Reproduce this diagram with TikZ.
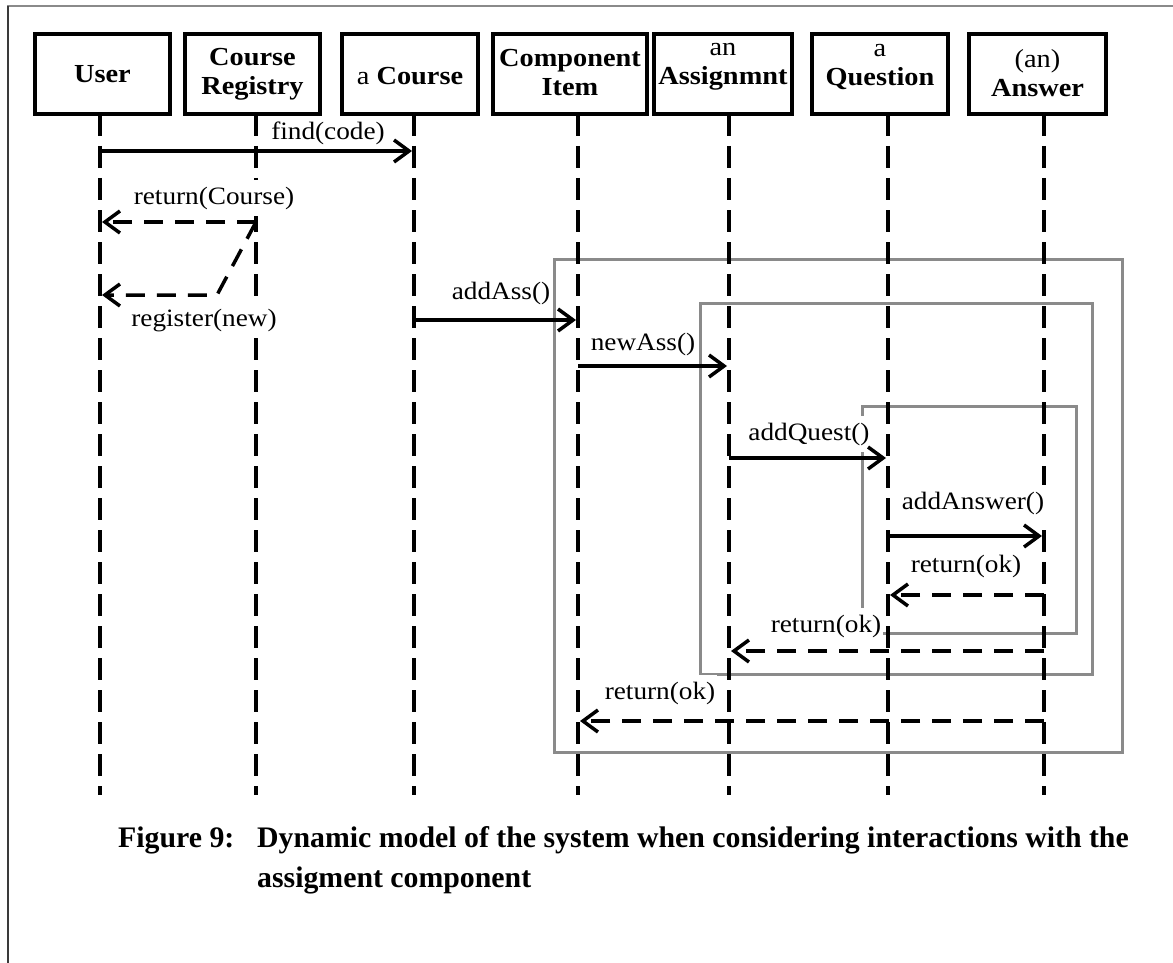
\documentclass[tikz,border=0pt]{standalone}
\usepackage{fontspec}
\setmainfont{Liberation Serif}[FakeStretch=1.09]
\newfontfamily\captionfamily{Liberation Serif}
\usetikzlibrary{arrows.meta}
\definecolor{framegray}{HTML}{8A8A8A}
\definecolor{edgegray}{HTML}{3A3A3A}

\begin{document}
\begin{tikzpicture}[x=1pt,y=-1pt,
  obj/.style={draw, line width=4pt, minimum height=80pt, inner sep=0pt, fill=white},
  objtext/.style={align=center, inner sep=0pt, font=\fontsize{26}{29}\selectfont},
  life/.style={line width=4pt, dash pattern=on 22pt off 10pt},
  call/.style={line width=3.5pt, -{Straight Barb[length=15pt,width=22pt]}},
  ret/.style={call, dash pattern=on 19pt off 12pt},
  frame/.style={draw=framegray, line width=3pt},
  msg/.style={fill=white, inner xsep=2pt, inner ysep=7pt, text height=17.5pt,
    text depth=5pt, font=\fontsize{25}{30}\selectfont},
  captext/.style={anchor=base west, inner sep=0pt,
    font=\captionfamily\fontsize{29.8}{40}\selectfont\bfseries}
]
\useasboundingbox (0,0) rectangle (1173,963);

% page rules
\draw[framegray, line width=2pt] (7,6) -- (1173,6);
\draw[edgegray, line width=1.5pt] (8,6) -- (8,963);

% combined fragments
\draw[frame] (554,259.5) rectangle (1122,752.7);
\draw[frame] (700.7,303.3) rectangle (1092,674);
\draw[frame] (862.7,406.7) rectangle (1076,633.3);

% lifeline tops
\coordinate (lU) at (100,114);
\coordinate (lR) at (256,114);
\coordinate (lC) at (414,114);
\coordinate (lI) at (578,114);
\coordinate (lA) at (729,114);
\coordinate (lQ) at (888,114);
\coordinate (lN) at (1044,114);
\foreach \l in {lU,lR,lC,lI,lA,lQ,lN}
  \draw[life] (\l) -- ++(0,681);

% message labels (white ground hides the lines behind them)
\node[msg] (m1) at (328,133) {find(code)};
\node[msg] (m2) at (214,198) {return(Course)};
\node[msg] (m3) at (204,320) {register(new)};
\node[msg] (m4) at (501,293) {addAss()};
\node[msg] (m5) at (643,344) {newAss()};
\node[msg] (m6) at (809,434) {addQuest()};
\node[msg] (m7) at (973,503) {addAnswer()};
\node[msg] (m8) at (966,566) {return(ok)};
\node[msg] (m9) at (826,626) {return(ok)};
\node[msg] (m10) at (660,693) {return(ok)};

% messages
\draw[call] (lU |- 0,151) -- ([xshift=-2pt]lC |- 0,151);
\draw[ret] (lR |- 0,222) -- ([xshift=2pt]lU |- 0,222);
\coordinate (bend) at (217,295);
\draw[ret] (lR |- 0,222) -- (bend) -- ([xshift=2pt]lU |- 0,295);
\draw[call] (lC |- 0,320) -- ([xshift=-2pt]lI |- 0,320);
\draw[call] (lI |- 0,366) -- ([xshift=-2pt]lA |- 0,366);
\draw[call] (lA |- 0,458) -- ([xshift=-2pt]lQ |- 0,458);
\draw[call] (lQ |- 0,536) -- ([xshift=-2pt]lN |- 0,536);
\draw[ret] (lN |- 0,595) -- ([xshift=2pt]lQ |- 0,595);
\draw[ret] (lN |- 0,651) -- ([xshift=2pt]lA |- 0,651);
\draw[ret] (lN |- 0,721) -- ([xshift=2pt]lI |- 0,721);

% object boxes
\node[obj, minimum width=135pt] (user) at (102.5,74) {};
\node[obj, minimum width=135pt] (reg) at (252.5,74) {};
\node[obj, minimum width=136pt] (course) at (410,74) {};
\node[obj, minimum width=154pt] (item) at (570,74) {};
\node[obj, minimum width=138pt] (asg) at (723,74) {};
\node[obj, minimum width=136pt] (quest) at (880,74) {};
\node[obj, minimum width=137pt] (ans) at (1037.5,74) {};

\node[objtext] (user-t) at (user.center) {\textbf{User}};
\node[objtext] (reg-t) at (reg.center) {\textbf{Course}\\\textbf{Registry}};
\node[objtext] (course-t) at ([yshift=-2pt]course.center) {a \textbf{Course}};
\node[objtext] (item-t) at ([yshift=1pt]item.center) {\textbf{Component}\\\textbf{Item}};
\node[objtext] (asg-t) at ([yshift=7pt]asg.center) {an\\\textbf{Assignmnt}};
\node[objtext] (quest-t) at ([yshift=7pt]quest.center) {a\\\textbf{Question}};
\node[objtext] (ans-t) at ([yshift=1pt]ans.center) {(an)\\\textbf{Answer}};

% caption
\node[captext] (fig) at (118,847) {Figure 9:};
\node[captext] (cap1) at (257,847) {Dynamic model of the system when considering interactions with the};
\node[captext] (cap2) at (257,887) {assigment component};
\end{tikzpicture}
\end{document}
